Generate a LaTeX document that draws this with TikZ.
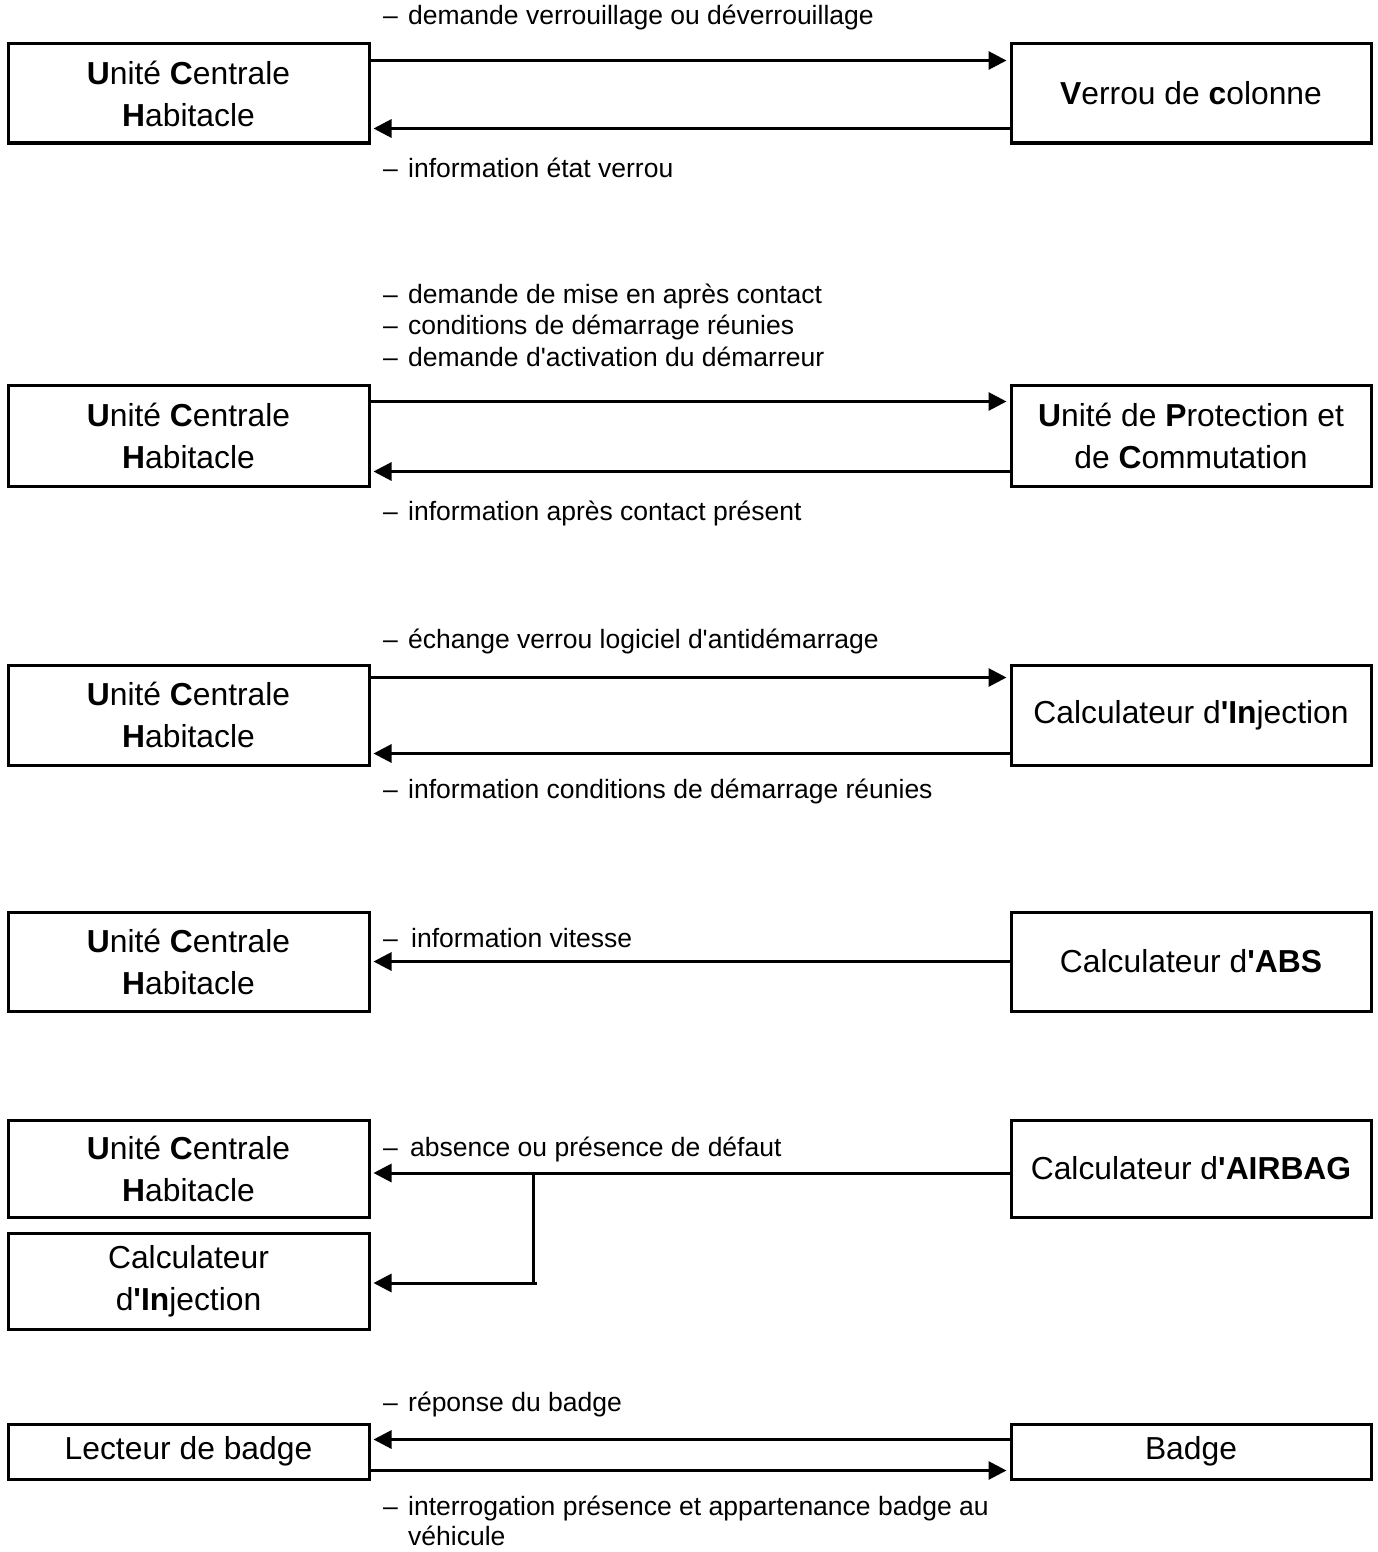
\documentclass[tikz,border=0pt]{standalone}
\usepackage{fontspec}
\setmainfont{Liberation Sans}
\usetikzlibrary{arrows.meta}
\newcommand\apos{\textquotesingle}
\newcommand\dsh{\makebox[25pt][l]{–}}
\newcommand\dshw{\makebox[28pt][l]{–}}
\begin{document}
\begin{tikzpicture}[x=1pt,y=-1pt,
  box/.style={draw,line width=3pt,minimum width=361pt,inner sep=0pt,align=center,
    font=\fontsize{31.8}{42}\selectfont},
  rbox/.style={box,minimum width=360pt},
  lbl/.style={anchor=base west,inner sep=0pt,font=\fontsize{26.5}{31.5}\selectfont},
  arr/.style={line width=3pt,-{Triangle[length=18pt,width=18pt]},shorten >=3pt},
  ln/.style={line width=3pt}]
\useasboundingbox (0,0) rectangle (1377,1552);

% ---------- Group 1
\node[box,minimum height=99pt] (u1) at (188.5,93.5) {\textbf{U}nité \textbf{C}entrale\\\textbf{H}abitacle};
\node[rbox,minimum height=99pt] (v1) at (1191,93.5) {\textbf{V}errou de \textbf{c}olonne};
\draw[arr] ([yshift=-18pt]u1.north east) -- ([yshift=-18pt]v1.north west);
\draw[arr] ([yshift=16pt]v1.south west) -- ([yshift=16pt]u1.south east);
\node[lbl] (l1a) at (383,25) {\dsh demande verrouillage ou déverrouillage};
\node[lbl] (l1b) at (383,177) {\dsh information état verrou};

% ---------- Group 2
\node[box,minimum height=101pt] (u2) at (188.5,435.5) {\textbf{U}nité \textbf{C}entrale\\\textbf{H}abitacle};
\node[rbox,minimum height=101pt] (p2) at (1191,435.5) {\textbf{U}nité de \textbf{P}rotection et\\de \textbf{C}ommutation};
\draw[arr] ([yshift=-18pt]u2.north east) -- ([yshift=-18pt]p2.north west);
\draw[arr] ([yshift=16pt]p2.south west) -- ([yshift=16pt]u2.south east);
\node[lbl] (l2a) at (383,303) {\dsh demande de mise en après contact};
\node[lbl] (l2b) at (383,334.5) {\dsh conditions de démarrage réunies};
\node[lbl] (l2c) at (383,366) {\dsh demande d\apos activation du démarreur};
\node[lbl] (l2d) at (383,520) {\dsh information après contact présent};

% ---------- Group 3
\node[box,minimum height=100pt] (u3) at (188.5,715) {\textbf{U}nité \textbf{C}entrale\\\textbf{H}abitacle};
\node[rbox,minimum height=100pt] (i3) at (1191,715) {Calculateur d\textbf{\apos In}jection};
\draw[arr] ([yshift=-14pt]u3.north east) -- ([yshift=-14pt]i3.north west);
\draw[arr] ([yshift=13pt]i3.south west) -- ([yshift=13pt]u3.south east);
\node[lbl] (l3a) at (383,648) {\dsh échange verrou logiciel d\apos antidémarrage};
\node[lbl] (l3b) at (383,798) {\dsh information conditions de démarrage réunies};

% ---------- Group 4
\node[box,minimum height=99pt] (u4) at (188.5,961.5) {\textbf{U}nité \textbf{C}entrale\\\textbf{H}abitacle};
\node[rbox,minimum height=99pt] (a4) at (1191,961.5) {Calculateur d\textbf{\apos ABS}};
\draw[arr] (a4.west) -- (u4.east);
\node[lbl] (l4) at (383,947) {\dshw information vitesse};

% ---------- Group 5
\node[box,minimum height=97pt] (u5) at (188.5,1168.5) {\textbf{U}nité \textbf{C}entrale\\\textbf{H}abitacle};
\node[rbox,minimum height=97pt] (a5) at (1191,1168.5) {Calculateur d\textbf{\apos AIRBAG}};
\node[box,minimum height=96pt] (c5) at (188.5,1281) {Calculateur\\d\textbf{\apos In}jection};
\draw[arr] ([yshift=-4.5pt]a5.west) -- ([yshift=-4.5pt]u5.east);
\coordinate (j1) at (533,1173);
\coordinate (j2) at (537,1283);
\draw[ln] (j1) -- ([yshift=-1.5pt]j1 |- j2);
\draw[arr] (j2) -- (c5.east |- j2);
\node[lbl] (l5) at (383,1156) {\makebox[27pt][l]{–}absence ou présence de défaut};

% ---------- Group 6
\node[box,minimum height=55pt] (r6) at (188.5,1451.5) {Lecteur de badge};
\node[rbox,minimum height=55pt] (b6) at (1191,1451.5) {Badge};
\draw[arr] ([yshift=-17pt]b6.north west) -- ([yshift=-17pt]r6.north east);
\draw[arr] ([yshift=10pt]r6.south east) -- ([yshift=10pt]b6.south west);
\node[lbl] (l6a) at (383,1411) {\dsh réponse du badge};
\node[lbl] (l6b) at (383,1515) {\dsh interrogation présence et appartenance badge au};
\node[lbl] (l6c) at (408,1545) {véhicule};
\end{tikzpicture}
\end{document}
